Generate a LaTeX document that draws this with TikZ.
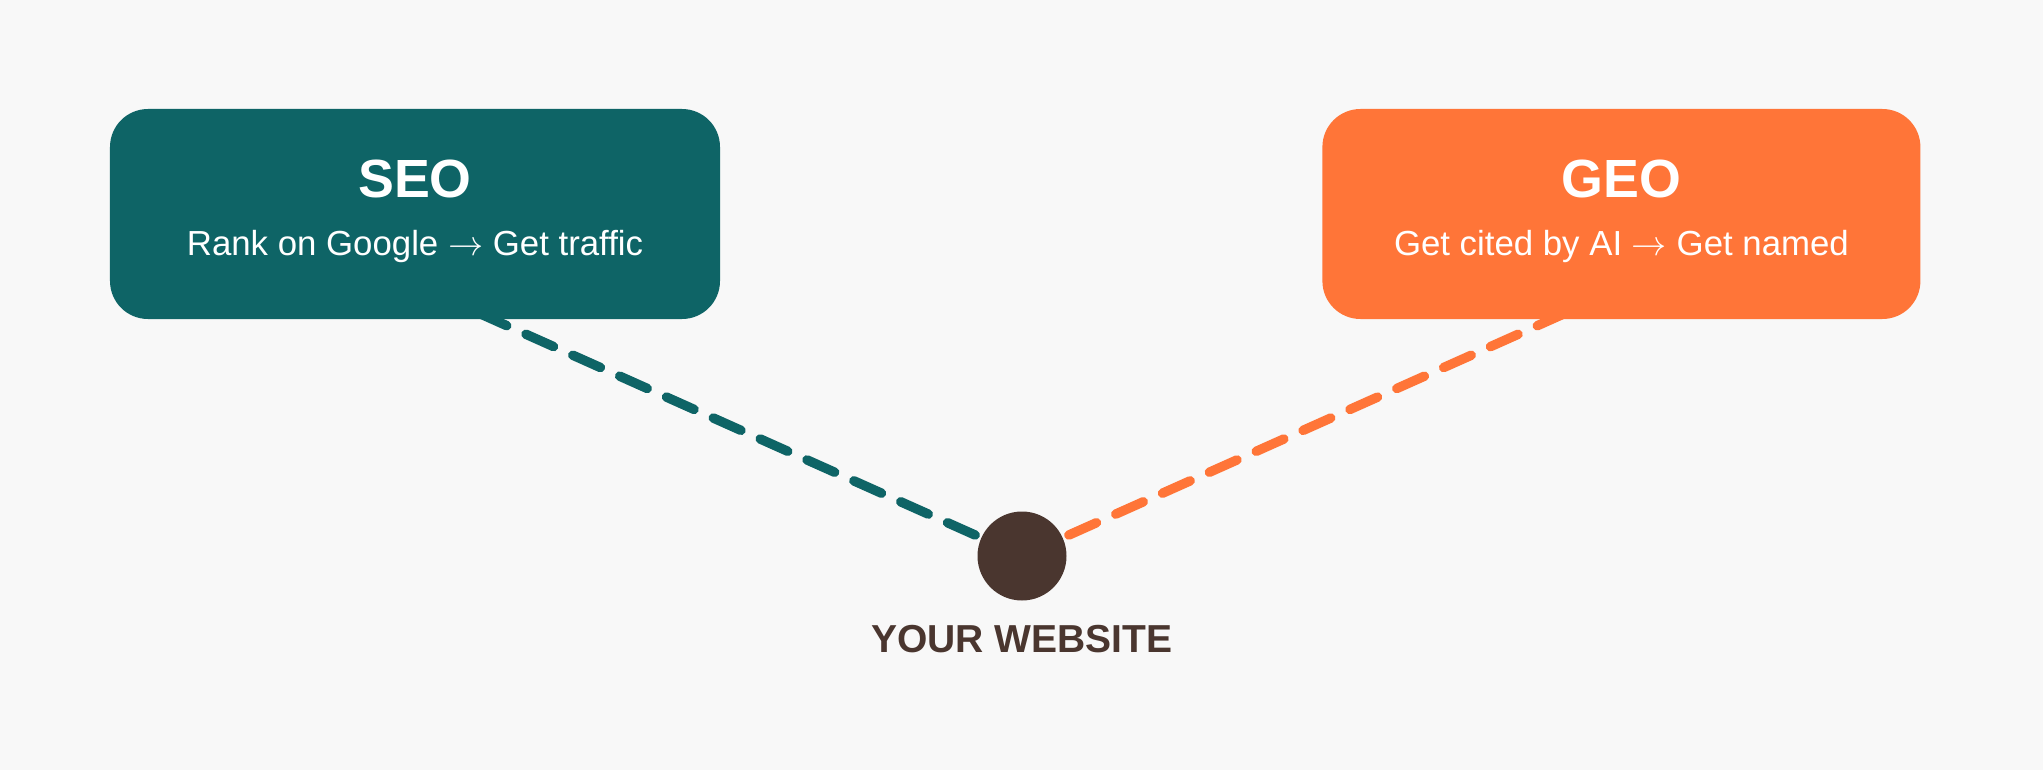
\documentclass[tikz,border=0pt]{standalone}
\usepackage{fontspec}
\setmainfont{Liberation Sans}
\usetikzlibrary{positioning}

\definecolor{seoteal}{RGB}{14,100,102}
\definecolor{geoorange}{RGB}{255,117,56}
\definecolor{sitebrown}{RGB}{74,54,47}
\definecolor{pagegray}{RGB}{248,248,248}

\pgfdeclarelayer{back}
\pgfsetlayers{back,main}

\begin{document}
\begin{tikzpicture}
    \tikzset{
      card/.style={rounded corners=0.38cm, minimum width=6.1cm, minimum height=2.1cm, inner sep=0pt},
      title/.style={anchor=base, text=white, font=\fontsize{15.3}{18}\selectfont\bfseries},
      sub/.style={anchor=base, text=white, font=\fontsize{9.9}{12}\selectfont},
      link/.style={line width=2.7pt, line cap=round, dash pattern=on 8.6pt off 6pt},
    }
    \useasboundingbox (0,0) rectangle (20.43,7.70);
    \node [card, fill=seoteal] (seo) at (4.15,5.56) {};
    \node [card, fill=geoorange, minimum width=5.98cm, right=6.01cm of seo] (geo) {};
    \node [title] (seotitle) at ([yshift=0.17cm]seo.center) {SEO};
    \node [sub] (seosub) at ([yshift=-0.41cm]seo.center) {Rank on Google $\rightarrow$ Get traffic};
    \node [title] (geotitle) at ([yshift=0.17cm]geo.center) {GEO};
    \node [sub] (geosub) at ([yshift=-0.41cm]geo.center) {Get cited by AI $\rightarrow$ Get named};
    \node [circle, fill=sitebrown, minimum size=0.89cm, inner sep=0pt] (site) at (10.22,2.14) {};
    \node [anchor=base, text=sitebrown, font=\fontsize{11.1}{13}\selectfont\bfseries] (sitelabel)
      at ([yshift=-0.96cm]site.center) {YOUR WEBSITE};
    \coordinate (seoend) at ([xshift=0.65cm, yshift=0.06cm]seo.south);
    \coordinate (geoend) at ([xshift=-0.55cm, yshift=0.07cm]geo.south);
    \begin{pgfonlayer}{back}
      \fill [pagegray] (0,0) rectangle (20.43,7.70);
      \draw [link, seoteal] (site.center) -- (seoend);
      \draw [link, geoorange] (site.center) -- (geoend);
    \end{pgfonlayer}
  \end{tikzpicture}
\end{document}
